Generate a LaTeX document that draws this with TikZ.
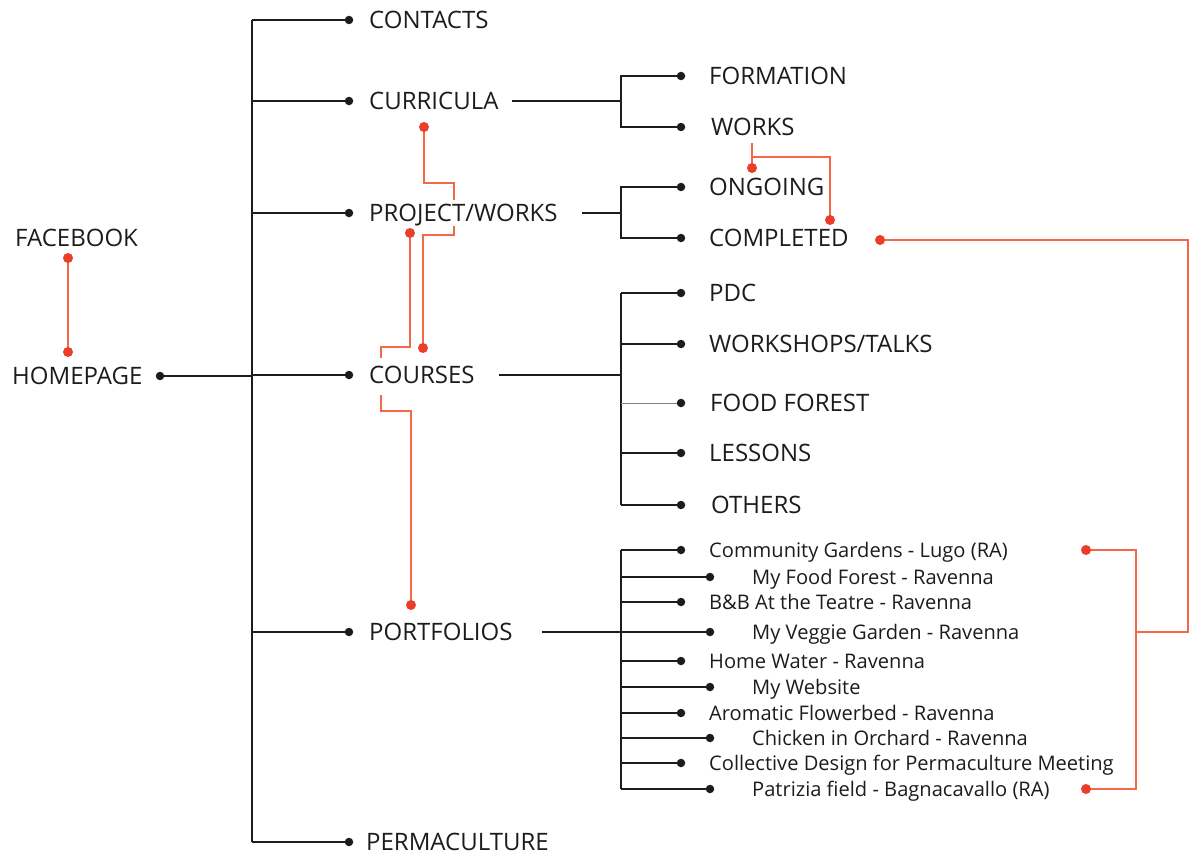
\documentclass[tikz,border=0pt]{standalone}
\usepackage{fontspec}
\setmainfont{Open Sans}
\usetikzlibrary{backgrounds}
\definecolor{org}{RGB}{243,104,72}
\definecolor{orgdot}{RGB}{234,62,40}
\definecolor{ink}{RGB}{28,28,28}
\begin{document}
\begin{tikzpicture}[x=1pt,y=-1pt,
 big/.style={anchor=base west, inner sep=0pt, font=\fontsize{24}{24}\selectfont, text=ink},
 small/.style={anchor=base west, inner sep=0pt, font=\fontsize{20.1}{20.1}\selectfont, text=ink},
 bdot/.style={circle, fill=ink, inner sep=0pt, minimum size=8.5pt},
 odot/.style={circle, fill=orgdot, inner sep=0pt, minimum size=10pt},
 bl/.style={draw=ink, line width=2pt},
 gl/.style={draw=gray, line width=1pt},
 ol/.style={draw=org, line width=2.8pt, line join=miter}]
\useasboundingbox (0,0) rectangle (1192,859);

% ---------- homepage / facebook ----------
\node[big] (homepage) at (12,384.5) {HOMEPAGE};
\node[big] (facebook) at (15,246.5) {FACEBOOK};
\node[bdot] (d-home) at (160,376) {};
\node[odot] (o-fb1) at (68,258) {};
\node[odot] (o-fb2) at (68,352) {};

% ---------- trunk ----------
\coordinate (tr-top) at (252,20);
\coordinate (tr-home) at (252,376);
\coordinate (tr-bot) at (252,842);

\node[bdot] (d-contacts) at (349,20) {};
\node[big] (contacts) at (369,28.5) {CONTACTS};
\node[bdot] (d-curricula) at (349,101) {};
\node[big] (curricula) at (369,109.5) {CURRICULA};
\node[bdot] (d-project) at (349,213) {};
\node[big] (project) at (369,221.5) {PROJECT/WORKS};
\node[bdot] (d-courses) at (349,375) {};
\node[big] (courses) at (369,383.5) {COURSES};
\node[bdot] (d-portfolios) at (349,632) {};
\node[big] (portfolios) at (369,640.5) {PORTFOLIOS};
\node[bdot] (d-perma) at (349,842) {};
\node[big] (permaculture) at (366,850.5) {PERMACULTURE};

\foreach \n/\y in {contacts/20,curricula/101,project/213,courses/375,portfolios/632,perma/842}
  \coordinate (tr-\n) at (252,\y);

% ---------- curricula children ----------
\coordinate (cu-s) at (512,101);
\coordinate (cu-j) at (621,101);
\coordinate (cu-t) at (621,76);
\coordinate (cu-b) at (621,127);
\node[bdot] (d-formation) at (681,76) {};
\node[big] (formation) at (709,84.5) {FORMATION};
\node[bdot] (d-works) at (681,127) {};
\node[big] (works) at (711,135.5) {WORKS};

% ---------- project children ----------
\coordinate (pr-s) at (582,213);
\coordinate (pr-j) at (621,213);
\coordinate (pr-t) at (621,187);
\coordinate (pr-b) at (621,238);
\node[bdot] (d-ongoing) at (681,187) {};
\node[big] (ongoing) at (709,195.5) {ONGOING};
\node[bdot] (d-completed) at (681,238) {};
\node[big] (completed) at (709,246.5) {COMPLETED};

% ---------- courses children ----------
\coordinate (co-s) at (499,375);
\coordinate (co-j) at (621,375);
\coordinate (co-t) at (621,293);
\coordinate (co-b) at (621,505);
\node[bdot] (d-pdc) at (681,293) {};
\node[big] (pdc) at (709,301.5) {PDC};
\node[bdot] (d-workshops) at (681,344) {};
\node[big] (workshops) at (709,352.5) {WORKSHOPS/TALKS};
\node[bdot] (d-foodforest) at (681,403) {};
\node[big] (foodforest) at (710,411.5) {FOOD FOREST};
\node[bdot] (d-lessons) at (681,453) {};
\node[big] (lessons) at (709,461.5) {LESSONS};
\node[bdot] (d-others) at (681,505) {};
\node[big] (others) at (711,513.5) {OTHERS};

% ---------- portfolio children ----------
\coordinate (po-s) at (542,632);
\coordinate (po-j) at (621,632);
\coordinate (po-t) at (621,550);
\coordinate (po-b) at (621,789);
\node[bdot] (d-p1) at (681,550) {};
\node[small] (p1) at (709,557) {Community Gardens - Lugo (RA)};
\node[bdot] (d-p2) at (710,577) {};
\node[small] (p2) at (752,584) {My Food Forest - Ravenna};
\node[bdot] (d-p3) at (681,602) {};
\node[small] (p3) at (709,609) {B\&B At the Teatre - Ravenna};
\node[bdot] (d-p4) at (710,632) {};
\node[small] (p4) at (752,639) {My Veggie Garden - Ravenna};
\node[bdot] (d-p5) at (681,661) {};
\node[small] (p5) at (709,668) {Home Water - Ravenna};
\node[bdot] (d-p6) at (710,687) {};
\node[small] (p6) at (752,694) {My Website};
\node[bdot] (d-p7) at (681,713) {};
\node[small] (p7) at (709,720) {Aromatic Flowerbed - Ravenna};
\node[bdot] (d-p8) at (710,738) {};
\node[small] (p8) at (752,745) {Chicken in Orchard - Ravenna};
\node[bdot] (d-p9) at (681,763) {};
\node[small] (p9) at (709,770) {Collective Design for Permaculture Meeting};
\node[bdot] (d-p10) at (710,789) {};
\node[small] (p10) at (752,796) {Patrizia field - Bagnacavallo (RA)};

% ---------- orange dots ----------
\node[odot] (o-cur) at (424,127) {};
\node[odot] (o-cou1) at (423,348) {};
\node[odot] (o-pro) at (410,233) {};
\node[odot] (o-por) at (411,605) {};
\node[odot] (o-works) at (752,168) {};
\node[odot] (o-comp1) at (830,220) {};
\node[odot] (o-comp2) at (880,240) {};
\node[odot] (o-p1) at (1086,550) {};
\node[odot] (o-p10) at (1086,789) {};
\coordinate (w-top) at (752,143);
\coordinate (w-mid) at (752,157);
\coordinate (r-end) at (1136,632);

\begin{pgfonlayer}{background}
% black tree
\draw[bl] (tr-top) -- (tr-bot);
\draw[bl] (d-home.center) -- (tr-home);
\foreach \n in {contacts,curricula,project,courses,portfolios,perma}
  \draw[bl] (tr-\n) -- (d-\n.center);
\draw[bl] (cu-s) -- (cu-j);
\draw[bl] (d-formation.center) -| (cu-j) |- (d-works.center);
\draw[bl] (pr-s) -- (pr-j);
\draw[bl] (d-ongoing.center) -| (pr-j) |- (d-completed.center);
\draw[bl] (co-s) -- (co-j);
\draw[bl] (co-t) -- (co-b);
\foreach \n in {pdc,workshops,lessons,others}
  \draw[bl] (co-t |- d-\n) -- (d-\n.center);
\draw[gl] (co-t |- d-foodforest) -- (d-foodforest.center);
\draw[bl] (po-s) -- (po-j);
\draw[bl] (po-t) -- (po-b);
\foreach \n in {p1,p2,p3,p4,p5,p6,p7,p8,p9,p10}
  \draw[bl] (po-t |- d-\n) -- (d-\n.center);
% orange links
\draw[ol] (o-fb1.center) -- (o-fb2.center);
\draw[ol] (o-cur.center) -- (424,183) -- (454,183) -- (454,200);
\draw[ol] (454,226) -- (454,235) -- (423,235) -- (o-cou1.center);
\draw[ol] (o-pro.center) -- (410,347) -- (381,347) -- (381,358);
\draw[ol] (381,395) -- (381,411) -- (411,411) -- (o-por.center);
\draw[ol] (w-top) -- (o-works.center);
\draw[ol] (w-mid) -| (o-comp1.center);
\draw[ol] (o-comp2.center) -- (1188,240) -- (1188,632) -- (r-end);
\draw[ol] (o-p1.center) -- (1136,550) -- (1136,789) -- (o-p10.center);
\end{pgfonlayer}
\end{tikzpicture}
\end{document}
